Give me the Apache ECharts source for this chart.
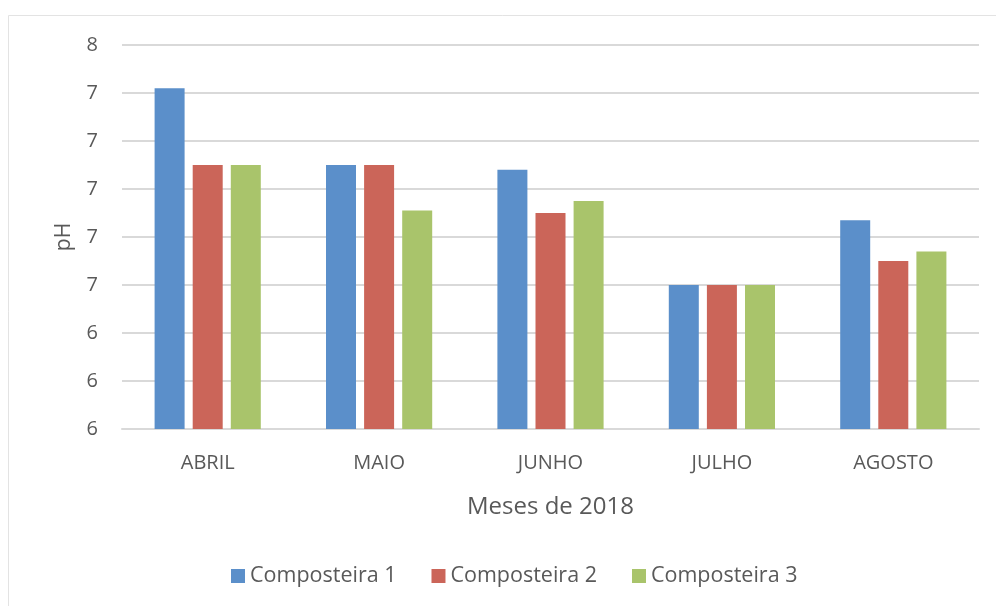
<!DOCTYPE html>
<html>
<head>
<meta charset="utf-8">
<script src="https://cdn.jsdelivr.net/npm/echarts@6/dist/echarts.min.js"></script>
<style>
  html, body { margin: 0; padding: 0; background: #fff; }
  #chart { width: 996px; height: 606px; }
</style>
</head>
<body>
<div id="chart"></div>
<script>
// pH das composteiras por mês
const months = ['ABRIL', 'MAIO', 'JUNHO', 'JULHO', 'AGOSTO'];
const seriesNames = ['Composteira 1', 'Composteira 2', 'Composteira 3'];
const composteira1 = [7.42, 7.10, 7.08, 6.60, 6.87];
const composteira2 = [7.10, 7.10, 6.90, 6.60, 6.70];
const composteira3 = [7.10, 6.91, 6.95, 6.60, 6.74];
const colors = ['#5B8FCA', '#CB6559', '#A9C46B'];

const FONT = '"Open Sans", sans-serif';
const TEXT = '#595959';

const chart = echarts.init(document.getElementById('chart'), null, { renderer: 'canvas' });

const values = [composteira1, composteira2, composteira3];

chart.setOption({
  backgroundColor: '#ffffff',
  animation: false,
  graphic: [{
    type: 'rect',
    shape: { x: 8.5, y: 15.5, width: 1000, height: 600 },
    style: { fill: 'none', stroke: '#e3e3e3', lineWidth: 1 },
    silent: true
  }],
  grid: { left: 122, right: 17, top: 45, bottom: 177, containLabel: false },
  legend: {
    bottom: 14,
    left: 226,
    itemWidth: 14,
    itemHeight: 14,
    itemGap: 35,
    icon: 'rect',
    textStyle: { color: TEXT, fontSize: 21.5, fontFamily: FONT },
    data: seriesNames
  },
  xAxis: {
    type: 'category',
    data: months,
    name: 'Meses de 2018',
    nameLocation: 'middle',
    nameGap: 66,
    nameTextStyle: { color: TEXT, fontSize: 24, fontFamily: FONT },
    axisLine: { lineStyle: { color: '#d9d9d9', width: 2 } },
    axisTick: { show: false },
    axisLabel: { color: TEXT, fontSize: 20, fontFamily: FONT, margin: 24 }
  },
  yAxis: {
    type: 'value',
    min: 6.0,
    max: 7.6,
    interval: 0.2,
    name: 'pH',
    nameLocation: 'middle',
    nameGap: 47,
    nameTextStyle: { color: TEXT, fontSize: 21, fontFamily: FONT },
    axisLine: { show: false },
    axisTick: { show: false },
    axisLabel: {
      color: TEXT, fontSize: 20, fontFamily: FONT, margin: 24,
      formatter: v => Math.round(v).toString()
    },
    splitLine: { lineStyle: { color: '#d9d9d9', width: 2 } }
  },
  series: seriesNames.map((name, i) => ({
    name,
    type: 'bar',
    data: values[i],
    barWidth: 30,
    barGap: '27%',
    itemStyle: { color: colors[i] }
  }))
});
</script>
</body>
</html>
